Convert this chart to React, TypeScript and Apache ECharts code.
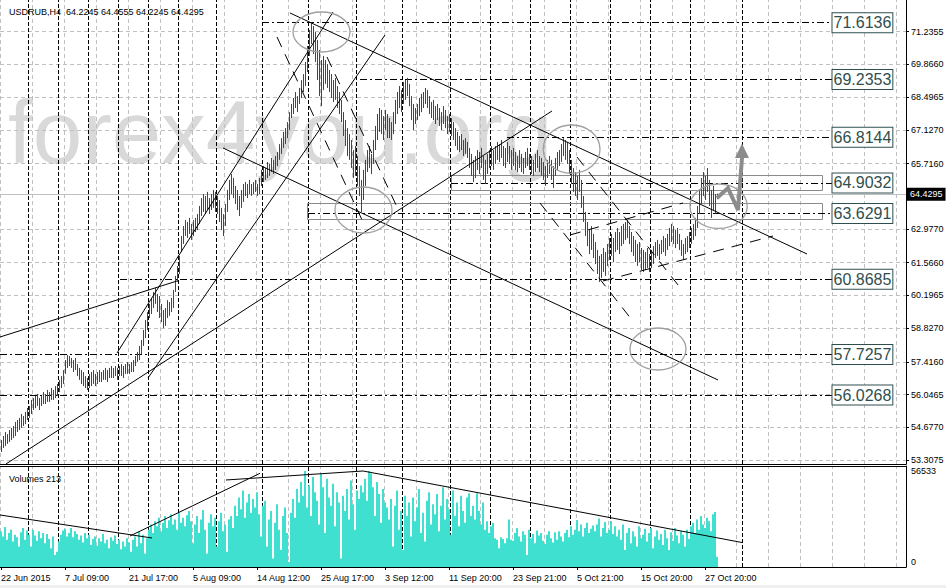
import React, { useEffect, useRef } from 'react';
import * as echarts from 'echarts';

// ---- price bars [high, low], one block per x-axis label period ----
const bars22Jun = [[54.14,53.64],[54.31,53.81],[54.48,53.89],[54.39,53.98],[54.56,54.06],[54.65,54.14],[54.73,54.23],[54.90,54.31],[54.98,54.48],[55.07,54.56],[55.23,54.65],[55.15,54.73],[55.32,54.81],[55.48,54.98],[55.57,55.07],[55.82,55.23],[55.90,55.40],[55.99,55.48],[56.07,55.57],[55.90,55.40],[55.99,55.57],[56.15,55.65],[56.07,55.65],[56.24,55.74],[56.15,55.74],[56.32,55.82],[56.24,55.82],[56.40,55.90],[56.49,55.99],[56.66,56.15],[56.82,56.32],[57.07,56.49]];
const bars07Jul = [[57.49,56.91],[57.70,57.16],[57.66,57.24],[57.58,57.16],[57.49,56.99],[57.58,57.07],[57.32,56.82],[57.16,56.66],[57.07,56.49],[56.99,56.40],[56.82,56.32],[56.74,56.24],[56.91,56.32],[56.99,56.40],[57.07,56.49],[56.91,56.40],[56.99,56.49],[57.07,56.57],[56.99,56.57],[57.07,56.66],[57.16,56.66],[57.07,56.57],[57.16,56.74],[57.24,56.74],[57.16,56.74],[57.24,56.82],[57.16,56.66],[57.24,56.82],[57.32,56.82],[57.24,56.74],[57.32,56.91],[57.41,56.91]];
const bars21Jul = [[57.32,56.91],[57.41,56.99],[57.49,56.99],[57.66,57.24],[57.83,57.41],[58.08,57.49],[58.33,57.74],[58.75,58.08],[59.17,58.41],[59.50,58.75],[59.84,59.25],[60.09,59.42],[60.34,59.67],[60.51,59.84],[60.26,59.50],[60.17,59.25],[59.84,59.08],[59.59,58.83],[59.67,58.92],[60.00,59.25],[59.92,59.34],[60.09,59.50],[60.42,59.67],[61.01,60.34],[61.43,60.76],[61.85,61.09],[62.68,62.01],[63.10,62.35],[63.35,62.68],[63.27,62.60],[63.44,62.77],[63.19,62.52]];
const bars05Aug = [[63.35,62.68],[63.44,62.85],[63.60,62.93],[63.94,63.19],[64.27,63.52],[64.44,63.69],[64.36,63.60],[64.53,63.77],[64.27,63.60],[64.44,63.77],[64.61,63.86],[64.53,63.69],[64.36,63.60],[64.19,63.27],[63.86,62.93],[63.60,62.68],[64.02,63.10],[64.61,63.69],[65.03,64.19],[65.28,64.44],[65.11,64.27],[64.78,64.02],[64.61,63.77],[64.36,63.52],[64.61,63.86],[64.86,64.11],[64.94,64.36],[64.86,64.27],[65.03,64.44],[64.86,64.36],[64.94,64.44],[65.03,64.53]];
const bars14Aug = [[64.86,64.36],[65.11,64.44],[65.45,64.78],[65.61,64.94],[65.53,65.03],[65.78,65.11],[65.70,65.20],[65.95,65.36],[65.87,65.28],[66.03,65.45],[66.20,65.61],[66.53,65.87],[66.78,66.12],[67.04,66.37],[67.20,66.53],[67.45,66.78],[67.87,67.12],[68.21,67.62],[68.46,67.79],[68.71,68.04],[68.54,67.87],[68.88,68.21],[69.21,68.46],[69.46,68.71],[69.97,68.96],[70.64,69.55],[71.31,70.22],[71.64,70.72],[71.47,70.30],[71.22,69.97],[70.89,69.21],[70.47,68.54]];
const bars25Aug = [[70.05,68.12],[70.22,68.79],[70.05,69.05],[69.88,68.88],[69.63,68.71],[69.46,68.46],[69.21,68.29],[69.30,68.38],[68.96,68.04],[68.71,67.79],[68.38,67.45],[67.87,66.87],[67.54,66.45],[67.20,66.03],[66.95,65.87],[66.70,65.53],[66.28,65.11],[66.45,65.20],[66.03,64.78],[65.61,64.36],[65.03,63.69],[65.45,64.19],[65.87,64.78],[66.28,65.36],[66.45,65.53],[66.12,65.28],[66.70,65.70],[67.29,66.28],[67.79,66.70],[68.04,67.04],[67.96,66.95],[67.70,66.70]];
const bars03Sep = [[67.96,67.12],[67.79,66.78],[67.62,66.78],[67.45,66.70],[67.87,66.95],[68.38,67.37],[68.71,67.79],[68.96,68.04],[68.79,67.87],[69.13,68.21],[69.21,68.38],[69.30,68.54],[69.05,68.12],[68.54,67.54],[68.21,67.12],[68.04,67.37],[68.21,67.54],[68.46,67.70],[68.63,67.87],[68.71,68.04],[68.88,68.21],[68.79,68.04],[68.54,67.79],[68.29,67.62],[68.38,67.54],[68.12,67.37],[68.21,67.54],[68.04,67.29],[67.87,67.12],[68.12,67.37],[67.96,67.20],[67.70,66.95]];
const bars11Sep = [[67.79,67.04],[67.62,66.87],[67.45,66.70],[67.20,66.45],[67.04,66.28],[66.87,66.20],[66.95,66.28],[66.70,66.03],[66.78,66.12],[66.62,65.95],[66.37,65.53],[66.12,65.20],[65.87,64.94],[66.03,65.11],[66.28,65.45],[66.20,65.28],[66.37,65.53],[66.03,65.03],[65.87,64.86],[66.12,65.28],[66.28,65.53],[66.45,65.61],[66.28,65.45],[66.45,65.70],[66.62,65.87],[66.53,65.78],[66.70,65.95],[66.45,65.61],[66.37,65.53],[66.62,65.78],[66.45,65.70],[66.28,65.45]];
const bars23Sep = [[66.37,65.61],[66.20,65.45],[66.03,65.36],[66.28,65.53],[66.12,65.36],[65.95,65.28],[66.20,65.53],[66.37,65.61],[66.12,65.45],[66.03,65.28],[65.87,65.20],[66.12,65.36],[66.28,65.53],[66.03,65.36],[65.95,65.20],[65.78,65.03],[65.61,64.78],[65.87,65.11],[66.03,65.28],[65.87,65.03],[65.61,64.69],[65.95,65.20],[66.20,65.45],[66.28,65.61],[66.53,65.78],[66.78,66.03],[66.70,65.87],[66.62,65.70],[66.28,65.28],[65.87,64.86],[65.53,64.53],[65.36,64.36]];
const bars05Oct = [[65.20,64.19],[65.45,64.53],[65.03,63.86],[64.36,63.27],[63.69,62.68],[63.27,62.26],[62.93,61.93],[63.10,62.10],[62.77,61.76],[62.43,61.51],[62.10,61.09],[61.85,60.76],[61.93,60.93],[62.18,61.18],[62.01,61.01],[62.35,61.43],[62.60,61.68],[62.77,61.85],[62.60,61.59],[62.85,62.01],[63.02,62.10],[62.85,61.93],[63.10,62.26],[63.19,62.35],[63.27,62.52],[63.35,62.60],[63.10,62.35],[62.85,62.01],[62.68,61.85],[62.52,61.59],[62.35,61.43],[62.43,61.59]];
const bars15Oct = [[62.18,61.26],[62.10,61.18],[62.01,61.26],[62.18,61.34],[61.93,61.18],[62.10,61.34],[62.26,61.51],[62.43,61.76],[62.52,61.85],[62.35,61.68],[62.52,61.93],[62.68,62.01],[62.60,61.85],[62.77,62.10],[63.02,62.26],[63.19,62.43],[63.10,62.35],[62.93,62.18],[63.02,62.35],[62.77,62.10],[62.52,61.85],[62.35,61.68],[62.60,61.93],[62.68,62.01],[62.85,62.18],[63.02,62.35],[63.19,62.52],[63.44,62.68],[63.94,63.02],[64.61,63.60],[65.11,64.02],[65.36,64.36]];
const bars27Oct = [[65.20,64.19],[65.53,64.53],[65.03,63.94],[64.61,63.44],[64.78,63.77],[64.44,63.60],[64.4555,64.2245]];

// ---- volumes, same periods ----
const vol22Jun = [21000,18000,23500,16000,20000,22000,15000,19000,17500,12000,20500,23000,16000,21500,19000,12000,22000,18500,15500,21000,17000,20000,14000,19500,16500,11000,18000,7000,9000,15000,19000,21500];
const vol07Jul = [22500,18000,20000,23000,17500,21000,19500,16000,18500,14500,20000,17000,19000,13000,16500,18000,12500,17000,15000,19500,14000,16000,11000,17500,15500,18500,13500,16000,10500,15000,12000,17000];
const vol21Jul = [14500,9000,16000,18000,12000,21000,14000,19000,8000,17000,22000,25000,20000,27000,24000,29000,21000,26000,30000,23000,27500,31000,25000,28000,22000,32000,26000,29000,24000,30500,33000,27000];
const vol05Aug = [14000,25000,30000,20000,28000,33500,22000,8000,26000,31000,24000,29000,12000,27000,32000,21000,25000,9000,28000,30000,23000,36000,30000,41000,34000,45000,29000,38000,43000,32000,40000,35000];
const vol14Aug = [44000,31000,18000,36000,39000,12000,28000,33000,5000,26000,37000,22000,10000,30000,35000,20000,3000,32000,40000,29000,46000,38000,50000,42000,56500,35000,48000,30000,53000,44000,39000,25000];
const vol25Aug = [55000,47000,20000,52000,41000,36000,49000,24000,44000,38000,5000,42000,33000,46000,28000,51000,37000,22000,45000,40000,48000,44000,52000,39000,56500,55000,47000,30000,50000,43000,26000,46000];
const vol03Sep = [38000,35000,28000,40000,12000,36000,45000,22000,33000,10000,42000,30000,38000,18000,41000,27000,35000,46000,20000,32000,15000,39000,44000,25000,37000,31000,43000,21000,36000,47000,28000,40000];
const vol11Sep = [34000,19000,45000,30000,38000,24000,42000,33000,26000,41000,43500,30000,36000,28000,43500,33000,25000,38000,22000,27000,20000,24000,26000,17000,16000,11000,17500,16500,14000,17000,28000,16000];
const vol23Sep = [15500,20000,23000,18000,15000,21000,19000,7000,22000,17000,19500,14000,21500,18500,20000,15500,13500,19000,21000,17000,14500,20500,16000,21000,18000,15000,20000,22000,17500,24000,19000,22000];
const vol05Oct = [27700,21000,25000,18000,23000,26000,20000,22500,24500,21000,25000,28600,18000,23000,26500,20000,22000,27000,19500,24000,18000,22000,16000,25000,10000,20000,23000,14000,21000,18000,12000,24000];
const vol15Oct = [17000,19000,22500,15000,20000,23000,11000,18000,21500,16000,19500,13000,22000,17000,10000,20500,15500,23000,18500,14000,21000,19000,12000,22000,16500,24000,26000,20000,28000,22000,30000,25000];
const vol27Oct = [23000,29000,27000,21000,31000,32400,6000];

// ---- axes ----
const xTickBars = [0, 32, 64, 96, 128, 160, 192, 224, 256, 288, 320, 352];
const xTickLabels = ['22 Jun 2015', '7 Jul 09:00', '21 Jul 17:00', '5 Aug 09:00', '14 Aug 12:00', '25 Aug 17:00', '3 Sep 12:00', '11 Sep 20:00', '23 Sep 21:00', '5 Oct 21:00', '15 Oct 20:00', '27 Oct 20:00'];
const priceTicks = [71.2355, 69.866, 68.4965, 67.127, 65.716, 62.977, 61.566, 60.1965, 58.827, 57.416, 56.0465, 54.677, 53.3075];
const volumeTicks = [0, 56533];
const lastPrice = 64.4295;
const titleText = 'USDRUB,H4  64.2245 64.4555 64.2245 64.4295';
const volumeTitle = 'Volumes 213';

// ---- drawn objects (bar index units, price) ----
const levelPrices = [71.6136, 69.2353, 66.8144, 64.9032, 63.6291, 60.8685, 57.7257, 56.0268];
const levelStarts = [131, 180, 253.5, 225.5, 154, 60, 0, 0];
const levelEnd = 416;
const weekLines = [14.25, 29.25, 44.25, 59.25, 74.25, 89.25, 108.25, 131.25, 154.25, 178.25, 201.25, 225.25, 245.25, 265.25, 285.25, 305.25, 325.25, 345.25, 371.25];
const solidTrends = [
  [0, 58.455, 88.5, 60.799],
  [3, 53.14, 276, 67.916],
  [58.5, 57.786, 166.5, 72.06],
  [74, 56.739, 192.5, 71.097],
  [111.5, 66.367, 359, 56.656],
  [145, 72.018, 403.5, 61.93],
];
const dashedTrends = [
  [138.5, 71.013, 181.5, 63.269],
  [163.5, 70.176, 198.5, 63.897],
  [288.5, 65.99, 341, 60.423],
  [270, 64.065, 316, 59.167],
  [285, 62.725, 341.5, 64.065],
  [301.5, 60.8, 386.5, 62.683],
];
const volumeTrends = [
  [0, 30628, 76, 17081],
  [65, 18259, 130, 55189],
  [113, 51243, 181.5, 56544],
  [181.5, 56544, 371.5, 14313],
];
const zones = [
  [225.5, 65.237, 411, 64.609],
  [153.5, 64.065, 411, 63.395],
];
const ellipses = [
  [160.75, 71.223, 14.25, 0.837],
  [181.75, 63.772, 14.25, 0.963],
  [285.8, 66.317, 14.2, 1.013],
  [359.3, 63.93, 14.3, 0.93],
  [329, 57.953, 14, 0.879],
];
const arrowPath = [[358.5, 64.27], [364, 64.69], [369, 63.77], [371, 65.95]];
const arrowHead = [367.5, 65.95, 374.5, 65.95, 371, 66.55];

const FONT = '"Liberation Sans", Arial, Helvetica, sans-serif';
const BAR_COLOR = '#2f4f4f';
const VOL_COLOR = '#40e0d0';
const X_MAX = 453;
const Y_MIN = 53.139;
const Y_MAX = 72.562;
const V_MAX = 59480;

const priceBars = [...bars22Jun, ...bars07Jul, ...bars21Jul, ...bars05Aug, ...bars14Aug, ...bars25Aug, ...bars03Sep, ...bars11Sep, ...bars23Sep, ...bars05Oct, ...bars15Oct, ...bars27Oct];
const volumes = [...vol22Jun, ...vol07Jul, ...vol21Jul, ...vol05Aug, ...vol14Aug, ...vol25Aug, ...vol03Sep, ...vol11Sep, ...vol23Sep, ...vol05Oct, ...vol15Oct, ...vol27Oct];
const gridCols = Array.from({ length: 29 }, (_, k) => 16 * k + 0.25);

function buildOption(): any {
  const seg = (a: number[]) => ({ coords: [[a[0], a[1]], [a[2], a[3]]] });
  return {
    animation: false,
    textStyle: { fontFamily: FONT },
    title: [
      { text: titleText, left: 4, top: 2, textStyle: { fontSize: 9, fontWeight: 'normal', color: '#000', fontFamily: FONT } },
      { text: volumeTitle, left: 4, top: 469, textStyle: { fontSize: 9, fontWeight: 'normal', color: '#000', fontFamily: FONT } },
    ],
    grid: [
      { left: 0, top: 0, width: 906, height: 464, outerBoundsMode: 'none' },
      { left: 0, top: 466, width: 906, height: 101, outerBoundsMode: 'none' },
    ],
    xAxis: [
      { type: 'value', gridIndex: 0, min: 0, max: X_MAX, axisLine: { show: true, onZero: false, lineStyle: { color: '#000' } }, axisTick: { show: false }, axisLabel: { show: false }, splitLine: { show: false } },
      {
        type: 'value', gridIndex: 1, min: 0, max: X_MAX,
        axisLine: { show: true, onZero: false, lineStyle: { color: '#000' } },
        axisTick: { show: true, customValues: xTickBars.map((i) => i + 0.5), length: 3, lineStyle: { color: '#000' } },
        axisLabel: {
          show: true, customValues: xTickBars.map((i) => i + 0.5), align: 'left', margin: 6, fontSize: 9, color: '#000', fontFamily: FONT,
          formatter: (v: number) => xTickLabels[xTickBars.indexOf(Math.round(v - 0.5))] || '',
        },
        splitLine: { show: false },
      },
    ],
    yAxis: [
      {
        type: 'value', gridIndex: 0, position: 'right', min: Y_MIN, max: Y_MAX,
        axisLine: { show: true, onZero: false, lineStyle: { color: '#000' } },
        axisTick: { show: true, customValues: priceTicks, length: 3, lineStyle: { color: '#000' } },
        axisLabel: { customValues: priceTicks, formatter: (v: number) => v.toFixed(4), fontSize: 9, color: '#000', margin: 5, fontFamily: FONT },
        splitLine: { show: false },
      },
      {
        type: 'value', gridIndex: 1, position: 'right', min: 0, max: V_MAX,
        axisLine: { show: true, onZero: false, lineStyle: { color: '#000' } },
        axisTick: { show: false },
        axisLabel: {
          customValues: volumeTicks, fontSize: 9, color: '#000', margin: 5, fontFamily: FONT,
          formatter: (v: number) => (v === 0 ? '{z|0}' : String(v)),
          rich: { z: { fontSize: 9, color: '#000', padding: [0, 0, 11, 0], fontFamily: FONT } },
        },
        splitLine: { show: false },
      },
    ],
    graphic: [
      { type: 'text', x: 8, y: 132, z: 0, silent: true, style: { text: 'forex4you.org', fill: '#d9d9d9', fontSize: 89, fontFamily: FONT, verticalAlign: 'middle', align: 'left' } },
      { type: 'line', z: 10, silent: true, shape: { x1: 0, y1: 466.5, x2: 906, y2: 466.5 }, style: { stroke: '#000', lineWidth: 1 } },
      { type: 'rect', z: 10, silent: true, shape: { x: 0, y: 585, width: 946, height: 3 }, style: { fill: '#f0f0f0' } },
    ],
    series: [
      {
        type: 'lines', name: 'grid', coordinateSystem: 'cartesian2d', xAxisIndex: 0, yAxisIndex: 0, z: 1, silent: true,
        lineStyle: { color: '#c0c0c0', width: 1, type: [4, 3], opacity: 1 },
        data: [
          ...priceTicks.map((p) => ({ coords: [[0, p], [X_MAX, p]] })),
          ...gridCols.map((v) => ({ coords: [[v, Y_MIN], [v, Y_MAX]] })),
        ],
      },
      {
        type: 'lines', name: 'volGrid', coordinateSystem: 'cartesian2d', xAxisIndex: 1, yAxisIndex: 1, z: 1, silent: true,
        lineStyle: { color: '#c0c0c0', width: 1, type: [4, 3], opacity: 1 },
        data: gridCols.map((v) => ({ coords: [[v, 0], [v, V_MAX]] })),
      },
      {
        type: 'lines', name: 'bid', coordinateSystem: 'cartesian2d', xAxisIndex: 0, yAxisIndex: 0, z: 2, silent: true,
        lineStyle: { color: '#c0c0c0', width: 1, type: 'solid', opacity: 1 },
        data: [{ coords: [[0, lastPrice], [X_MAX, lastPrice]] }],
      },
      {
        type: 'lines', name: 'weeks', coordinateSystem: 'cartesian2d', xAxisIndex: 0, yAxisIndex: 0, z: 3, silent: true,
        lineStyle: { color: '#000', width: 1, type: [4, 2], opacity: 1 },
        data: weekLines.map((v) => ({ coords: [[v, Y_MIN], [v, Y_MAX]] })),
      },
      {
        type: 'lines', name: 'volWeeks', coordinateSystem: 'cartesian2d', xAxisIndex: 1, yAxisIndex: 1, z: 3, silent: true,
        lineStyle: { color: '#000', width: 1, type: [4, 2], opacity: 1 },
        data: weekLines.map((v) => ({ coords: [[v, 0], [v, V_MAX]] })),
      },
      {
        type: 'custom', name: 'zones', xAxisIndex: 0, yAxisIndex: 0, z: 3, silent: true,
        data: zones,
        renderItem: (_p: any, api: any) => {
          const a = api.coord([api.value(0), api.value(1)]);
          const b = api.coord([api.value(2), api.value(3)]);
          return { type: 'rect', shape: { x: Math.round(a[0]) + 0.5, y: Math.round(a[1]) + 0.5, width: Math.round(b[0] - a[0]), height: Math.round(b[1] - a[1]) }, style: { fill: 'none', stroke: '#8a8a8a', lineWidth: 1 } };
        },
      },
      {
        type: 'lines', name: 'levels', coordinateSystem: 'cartesian2d', xAxisIndex: 0, yAxisIndex: 0, z: 4, silent: true,
        lineStyle: { color: '#000', width: 1, type: [7, 3, 2, 3], opacity: 1 },
        data: levelPrices.map((p, i) => ({ coords: [[levelStarts[i], p], [levelEnd, p]] })),
      },
      {
        type: 'custom', name: 'price', xAxisIndex: 0, yAxisIndex: 0, z: 5, silent: true,
        data: priceBars.map((b, i) => [i + 0.5, b[0], b[1]]),
        renderItem: (_p: any, api: any) => {
          const x = api.value(0);
          const hi = api.coord([x, api.value(1)]);
          const lo = api.coord([x, api.value(2)]);
          const px = Math.floor(hi[0]) + 0.5;
          return { type: 'line', shape: { x1: px, y1: hi[1], x2: px, y2: lo[1] }, style: { stroke: BAR_COLOR, lineWidth: 1 } };
        },
      },
      {
        type: 'lines', name: 'trends', coordinateSystem: 'cartesian2d', xAxisIndex: 0, yAxisIndex: 0, z: 6, silent: true,
        lineStyle: { color: '#000', width: 1, type: 'solid', opacity: 1 },
        data: solidTrends.map(seg),
      },
      {
        type: 'lines', name: 'dashedTrends', coordinateSystem: 'cartesian2d', xAxisIndex: 0, yAxisIndex: 0, z: 6, silent: true,
        lineStyle: { color: '#000', width: 1, type: [11, 8], opacity: 1 },
        data: dashedTrends.map(seg),
      },
      {
        type: 'custom', name: 'ellipses', xAxisIndex: 0, yAxisIndex: 0, z: 6, silent: true,
        data: ellipses,
        renderItem: (_p: any, api: any) => {
          const c = api.coord([api.value(0), api.value(1)]);
          const s = api.size([api.value(2), api.value(3)]);
          return { type: 'ellipse', shape: { cx: c[0], cy: c[1], rx: s[0], ry: s[1] }, style: { fill: 'none', stroke: '#a0a0a0', lineWidth: 1.3 } };
        },
      },
      {
        type: 'lines', name: 'arrow', coordinateSystem: 'cartesian2d', xAxisIndex: 0, yAxisIndex: 0, z: 7, silent: true, polyline: true,
        lineStyle: { color: '#8c8c8c', width: 4, type: 'solid', opacity: 1, join: 'miter' },
        data: [{ coords: arrowPath }],
      },
      {
        type: 'custom', name: 'arrowHead', xAxisIndex: 0, yAxisIndex: 0, z: 7, silent: true,
        data: [arrowHead],
        renderItem: (_p: any, api: any) => {
          const pts = [0, 2, 4].map((k) => api.coord([api.value(k), api.value(k + 1)]));
          return { type: 'polygon', shape: { points: pts }, style: { fill: '#8c8c8c' } };
        },
      },
      {
        type: 'custom', name: 'levelLabels', xAxisIndex: 0, yAxisIndex: 0, z: 8, silent: true,
        data: levelPrices.map((p) => [levelEnd, p]),
        renderItem: (params: any, api: any) => {
          const c = api.coord([api.value(0), api.value(1)]);
          return {
            type: 'text', x: Math.round(c[0]) + 0.5, y: c[1],
            style: {
              text: levelPrices[params.dataIndex].toFixed(4), fill: BAR_COLOR, fontSize: 16, fontFamily: FONT, lineHeight: 17,
              align: 'left', verticalAlign: 'middle', backgroundColor: '#fff', borderColor: BAR_COLOR, borderWidth: 1, padding: [1, 1, 1, 1],
            },
          };
        },
      },
      {
        type: 'custom', name: 'lastPrice', xAxisIndex: 0, yAxisIndex: 0, z: 8, silent: true,
        data: [[X_MAX, lastPrice]],
        renderItem: (_p: any, api: any) => {
          const c = api.coord([api.value(0), api.value(1)]);
          return {
            type: 'text', x: c[0] + 1, y: c[1],
            style: { text: lastPrice.toFixed(4), fill: '#fff', fontSize: 9, fontFamily: FONT, align: 'left', verticalAlign: 'middle', backgroundColor: '#000', padding: [2, 3, 2, 3] },
          };
        },
      },
      {
        type: 'custom', name: 'volume', xAxisIndex: 1, yAxisIndex: 1, z: 5, silent: true,
        data: volumes.map((v, i) => [i + 0.5, v]),
        renderItem: (_p: any, api: any) => {
          const x = api.value(0);
          const a = api.coord([x - 0.5, api.value(1)]);
          const b = api.coord([x + 0.5, 0]);
          return { type: 'rect', shape: { x: a[0], y: a[1], width: b[0] - a[0], height: b[1] - a[1] }, style: { fill: VOL_COLOR } };
        },
      },
      {
        type: 'lines', name: 'volTrends', coordinateSystem: 'cartesian2d', xAxisIndex: 1, yAxisIndex: 1, z: 6, silent: true,
        lineStyle: { color: '#000', width: 1, type: 'solid', opacity: 1 },
        data: volumeTrends.map(seg),
      },
    ],
  };
}

export default function App() {
  const ref = useRef<HTMLDivElement>(null);
  useEffect(() => {
    if (!ref.current) return;
    const chart = echarts.init(ref.current, undefined, { renderer: 'svg' });
    chart.setOption(buildOption());
    return () => chart.dispose();
  }, []);
  return <div ref={ref} style={{ position: 'absolute', left: 0, top: 0, width: 946, height: 588, background: '#fff' }} />;
}
